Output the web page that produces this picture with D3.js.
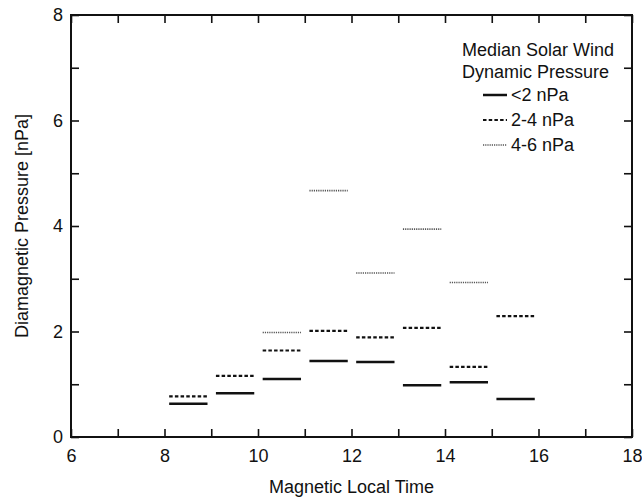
<!DOCTYPE html>
<html>
<head>
<meta charset="utf-8">
<script src="https://cdn.jsdelivr.net/npm/d3@7"></script>
<style>
  body { margin: 0; background: #fff; }
  svg text { font-family: "Liberation Sans", Arial, Helvetica, sans-serif; }
</style>
</head>
<body>
<div id="chart"></div>
<script>
// hourly MLT bins (start of each bin)
const mltBins = [8, 9, 10, 11, 12, 13, 14, 15];
// median diamagnetic pressure [nPa] for each solar wind pressure class
const lowP  = [0.63, 0.83, 1.10, 1.44, 1.42, 0.98, 1.04, 0.72];   // <2 nPa
const midP  = [0.77, 1.16, 1.64, 2.01, 1.89, 2.07, 1.33, 2.29];   // 2-4 nPa
const highP = [null, null, 1.98, 4.67, 3.11, 3.94, 2.93, null];   // 4-6 nPa
const seriesNames = ["<2 nPa", "2-4 nPa", "4-6 nPa"];
const xTicks = [6, 7, 8, 9, 10, 11, 12, 13, 14, 15, 16, 17, 18];
const yTicks = [0, 1, 2, 3, 4, 5, 6, 7, 8];

let width = 642;
let height = 500;
let margin = {top: 15, right: 10, bottom: 63, left: 71};

let svg = d3.select("#chart")
    .append("svg")
    .attr("width", width)
    .attr("height", height);

let x = d3.scaleLinear().domain([6, 18]).range([margin.left, width - margin.right]);
let y = d3.scaleLinear().domain([0, 8]).range([height - margin.bottom, margin.top]);

// line styles for each class
let styles = [
    {width: 2.5, dash: null, color: "#111"},
    {width: 2.2, dash: "3.5,2.2", color: "#111"},
    {width: 1.6, dash: "1.2,1", color: "#555"}
];

// axes, ticks point inward on all four sides
let axisB = d3.axisBottom(x).tickValues(xTicks).tickSize(-8).tickPadding(12)
    .tickFormat(d => d % 2 === 0 ? d : "");
let axisT = d3.axisTop(x).tickValues(xTicks).tickSize(-8).tickFormat("");
let axisL = d3.axisLeft(y).tickValues(yTicks).tickSize(-8).tickPadding(8)
    .tickFormat(d => d % 2 === 0 ? d : "");
let axisR = d3.axisRight(y).tickValues(yTicks).tickSize(-8).tickFormat("");

function styleAxis(g) {
    g.select(".domain").remove();
    g.selectAll(".tick line").attr("stroke", "#111").attr("stroke-width", 1.6);
    g.selectAll(".tick text").attr("fill", "#111").style("font-size", "18px");
}

svg.append("g").attr("transform", `translate(0,${y(0)})`).call(axisB).call(styleAxis);
svg.append("g").attr("transform", `translate(0,${y(8)})`).call(axisT).call(styleAxis);
svg.append("g").attr("transform", `translate(${x(6)},0)`).call(axisL).call(styleAxis);
svg.append("g").attr("transform", `translate(${x(18)},0)`).call(axisR).call(styleAxis);

// frame
svg.append("rect")
    .attr("x", x(6))
    .attr("y", y(8))
    .attr("width", x(18) - x(6))
    .attr("height", y(0) - y(8))
    .attr("fill", "none")
    .attr("stroke", "#111")
    .attr("stroke-width", 2);

// horizontal segments for each hour bin
[lowP, midP, highP].forEach(function(vals, i) {
    let segs = mltBins.map((h, j) => ({h: h, v: vals[j]})).filter(d => d.v != null);
    svg.append("g")
        .selectAll("line")
        .data(segs)
        .enter()
        .append("line")
        .attr("x1", d => x(d.h + 0.1))
        .attr("x2", d => x(d.h + 0.92))
        .attr("y1", d => y(d.v))
        .attr("y2", d => y(d.v))
        .attr("stroke", styles[i].color)
        .attr("stroke-width", styles[i].width)
        .attr("stroke-dasharray", styles[i].dash);
});

// axis titles
svg.append("text")
    .attr("x", (x(6) + x(18)) / 2)
    .attr("y", 493)
    .attr("text-anchor", "middle")
    .style("font-size", "18px")
    .attr("fill", "#111")
    .text("Magnetic Local Time");

svg.append("text")
    .attr("transform", `translate(28,${(y(0) + y(8)) / 2}) rotate(-90)`)
    .attr("text-anchor", "middle")
    .style("font-size", "18px")
    .attr("fill", "#111")
    .text("Diamagnetic Pressure [nPa]");

// legend
let legend = svg.append("g");
legend.append("text").attr("x", 462).attr("y", 56).style("font-size", "18px").attr("fill", "#111")
    .text("Median Solar Wind");
legend.append("text").attr("x", 462).attr("y", 78).style("font-size", "18px").attr("fill", "#111")
    .text("Dynamic Pressure");

let rows = legend.selectAll(".row")
    .data(seriesNames)
    .enter()
    .append("g")
    .attr("transform", (d, i) => `translate(0,${101 + i * 25})`);

rows.append("line")
    .attr("x1", 483)
    .attr("x2", 507)
    .attr("y1", -6)
    .attr("y2", -6)
    .attr("stroke", (d, i) => styles[i].color)
    .attr("stroke-width", (d, i) => styles[i].width)
    .attr("stroke-dasharray", (d, i) => styles[i].dash);

rows.append("text")
    .attr("x", 511)
    .attr("y", 0)
    .style("font-size", "18px")
    .attr("fill", "#111")
    .text(d => d);
</script>
</body>
</html>
